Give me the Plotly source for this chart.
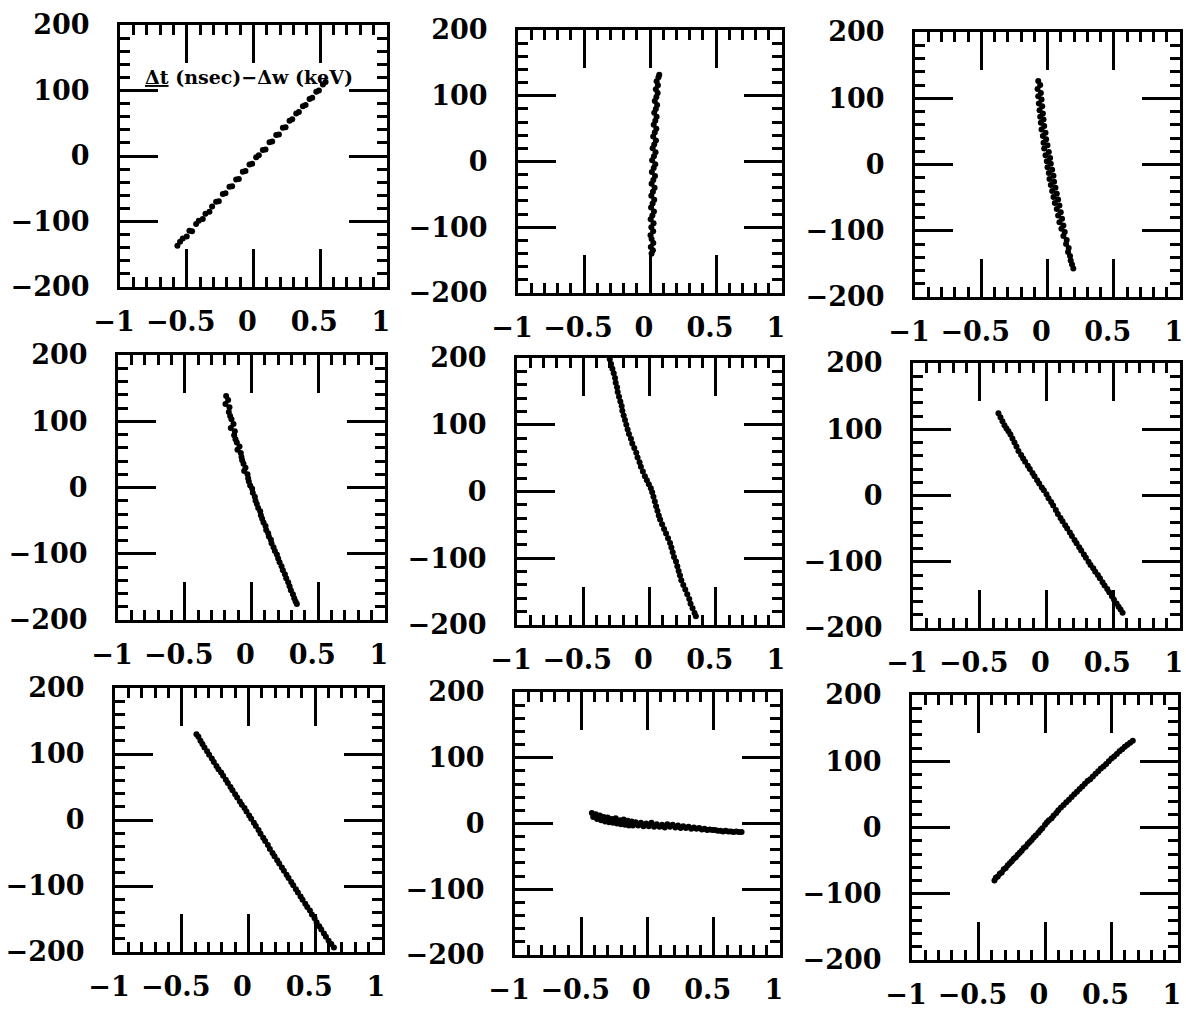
import plotly.graph_objects as go

# ---------------- data ----------------
X_TICKS = [-1, -0.5, 0, 0.5, 1]
Y_TICKS = [-200, -100, 0, 100, 200]
TITLE_TEXT = "<b><u>Δt</u> (nsec)−Δw (keV)</b>"

PANEL1 = [(-0.57,-137),(-0.55,-131),(-0.53,-126),(-0.50,-123),(-0.48,-114),(-0.46,-115),(-0.43,-104),
          (-0.41,-99),(-0.38,-96),(-0.36,-88),(-0.33,-85),(-0.31,-77),(-0.28,-70),(-0.26,-69),(-0.23,-58),
          (-0.21,-57),(-0.18,-47),(-0.16,-46),(-0.13,-36),(-0.11,-35),(-0.08,-24),(-0.06,-23),(-0.03,-13),
          (-0.01,-12),(0.02,-2),(0.04,1),(0.07,9),(0.09,10),(0.12,21),(0.14,22),(0.17,32),(0.19,33),
          (0.22,43),(0.24,44),(0.27,54),(0.29,56),(0.32,65),(0.34,67),(0.37,76),(0.39,78),(0.42,87),
          (0.44,89),(0.47,98),(0.49,100),(0.52,109),(0.54,113)]

PANEL2 = [(0.012,-140),(0.022,-135),(0.006,-130),(0.025,-124),(0.012,-118),(0.004,-112),(0.024,-106),
          (0.010,-100),(0.027,-94),(0.005,-88),(0.018,-82),(0.030,-76),(0.008,-70),(0.020,-64),(0.032,-58),
          (0.010,-52),(0.022,-46),(0.035,-40),(0.012,-34),(0.025,-28),(0.038,-22),(0.014,-16),(0.028,-10),
          (0.040,-4),(0.016,2),(0.030,8),(0.042,14),(0.020,20),(0.032,26),(0.045,32),(0.024,38),(0.036,44),
          (0.048,50),(0.028,56),(0.040,62),(0.050,68),(0.032,74),(0.044,80),(0.054,86),(0.036,92),
          (0.048,98),(0.058,104),(0.044,110),(0.060,116),(0.050,122),(0.064,128),(0.070,132)]

PANEL3 = [(-0.07,126),(-0.055,120),(-0.075,114),(-0.05,108),(-0.07,103),(-0.045,98),(-0.065,92),(-0.04,88),
          (-0.06,82),(-0.035,77),(-0.055,72),(-0.03,68),(-0.05,63),(-0.025,58),(-0.045,53),(-0.015,48),
          (-0.035,43),(-0.01,38),(-0.03,33),(0.0,29),(-0.025,24),(0.01,19),(-0.015,14),(0.02,10),(-0.005,5),
          (0.025,1),(0.0,-4),(0.035,-8),(0.01,-13),(0.045,-17),(0.015,-22),(0.05,-26),(0.025,-31),
          (0.06,-35),(0.035,-40),(0.07,-44),(0.045,-49),(0.08,-53),(0.055,-58),(0.09,-62),(0.07,-67),
          (0.10,-72),(0.08,-77),(0.11,-82),(0.09,-87),(0.12,-92),(0.105,-97),(0.13,-102),(0.12,-108),
          (0.145,-114),(0.14,-120),(0.16,-126),(0.155,-132),(0.17,-138),(0.175,-145),(0.185,-151),(0.195,-157)]

PANEL4 = [(-0.19,138),(-0.175,132),(-0.195,126),(-0.165,121),(-0.17,114),(-0.16,108),(-0.15,103),(-0.135,96),
          (-0.155,90),(-0.125,85),(-0.13,79),(-0.12,73),(-0.11,68),(-0.09,62),(-0.105,57),(-0.08,52),
          (-0.075,46),(-0.07,41),(-0.06,36),(-0.045,30),(-0.055,25),(-0.03,20),(-0.025,14),(-0.02,9),
          (-0.01,3),(0.005,-2),(0.01,-8),(0.025,-14),(0.03,-20),(0.04,-25),(0.05,-31),(0.065,-36),(0.07,-42),
          (0.08,-47),(0.09,-53),(0.105,-58),(0.11,-64),(0.125,-69),(0.13,-74),(0.145,-79),(0.15,-84),
          (0.165,-90),(0.175,-96),(0.19,-101),(0.20,-107),(0.21,-113),(0.225,-119),(0.235,-125),
          (0.25,-131),(0.26,-137),(0.275,-143),(0.285,-149),(0.295,-155),(0.31,-161),(0.32,-167),
          (0.33,-172),(0.34,-176)]

PANEL5 = [(-0.30,198),(-0.29,191),(-0.28,184),(-0.27,177),(-0.26,170),(-0.255,163),(-0.245,156),
          (-0.24,149),(-0.23,142),(-0.22,135),(-0.21,128),(-0.205,121),(-0.195,114),(-0.185,107),
          (-0.175,100),(-0.165,93),(-0.155,86),(-0.14,79),(-0.13,72),(-0.115,65),(-0.10,58),(-0.09,51),
          (-0.075,44),(-0.065,37),(-0.05,30),(-0.035,23),(-0.02,17),(-0.005,11),(0.01,5),(0.02,-1),
          (0.03,-8),(0.04,-15),(0.05,-22),(0.06,-29),(0.07,-36),(0.08,-42),(0.095,-49),(0.11,-56),
          (0.125,-63),(0.14,-70),(0.155,-77),(0.165,-84),(0.175,-91),(0.185,-98),(0.20,-105),(0.21,-112),
          (0.22,-119),(0.23,-126),(0.24,-133),(0.255,-140),(0.27,-147),(0.285,-154),(0.30,-161),
          (0.31,-168),(0.325,-175),(0.34,-182),(0.35,-187)]

PANEL6 = [(-0.36,124),(-0.345,118),(-0.33,112),(-0.315,106),(-0.30,101),(-0.285,97),(-0.27,92),
          (-0.255,86),(-0.24,80),(-0.225,74),(-0.21,67),(-0.19,61),(-0.175,56),(-0.16,51),(-0.14,45),
          (-0.125,40),(-0.105,34),(-0.09,29),(-0.07,23),(-0.055,18),(-0.035,12),(-0.02,8),(0.0,2),
          (0.015,-4),(0.035,-10),(0.05,-15),(0.07,-22),(0.085,-28),(0.105,-34),(0.12,-39),(0.14,-45),
          (0.155,-50),(0.175,-56),(0.19,-61),(0.21,-67),(0.225,-72),(0.245,-78),(0.26,-83),(0.28,-89),
          (0.295,-94),(0.315,-100),(0.33,-105),(0.35,-110),(0.365,-115),(0.385,-120),(0.40,-125),
          (0.42,-131),(0.435,-136),(0.455,-141),(0.47,-146),(0.49,-152),(0.505,-157),(0.525,-163),
          (0.54,-168),(0.555,-172),(0.57,-177)]

PANEL7 = [(-0.39,130),(-0.375,126),(-0.36,120),(-0.345,115),(-0.33,110),(-0.31,104),(-0.295,99),
          (-0.275,93),(-0.26,88),(-0.24,82),(-0.225,77),(-0.205,72),(-0.19,67),(-0.17,61),(-0.155,56),
          (-0.135,50),(-0.12,45),(-0.10,39),(-0.085,34),(-0.065,28),(-0.05,23),(-0.03,18),(-0.015,13),
          (0.005,7),(0.02,2),(0.04,-4),(0.055,-9),(0.075,-15),(0.09,-21),(0.11,-27),(0.125,-32),
          (0.145,-38),(0.16,-44),(0.18,-50),(0.195,-55),(0.215,-61),(0.23,-66),(0.25,-72),(0.265,-77),
          (0.285,-83),(0.30,-88),(0.32,-94),(0.335,-99),(0.355,-105),(0.37,-110),(0.39,-116),
          (0.405,-121),(0.425,-127),(0.44,-132),(0.46,-137),(0.475,-143),(0.495,-149),(0.51,-155),
          (0.53,-161),(0.545,-166),(0.565,-172),(0.58,-177),(0.60,-183),(0.62,-188),(0.64,-193)]

PANEL8 = [(-0.42,16),(-0.41,10),(-0.39,14),(-0.38,7),(-0.36,12),(-0.35,5),(-0.33,10),(-0.32,3),
          (-0.30,9),(-0.29,2),(-0.27,7),(-0.26,1),(-0.24,8),(-0.23,0),(-0.21,5),(-0.20,-1),(-0.18,6),
          (-0.17,-2),(-0.15,4),(-0.14,-3),(-0.12,3),(-0.11,-3),(-0.09,2),(-0.07,-3),(-0.05,1),(-0.03,-4),
          (-0.01,0),(0.01,-4),(0.03,1),(0.05,-5),(0.07,-1),(0.09,-5),(0.11,-2),(0.13,-6),(0.15,-1),
          (0.17,-5),(0.19,-2),(0.21,-6),(0.23,-3),(0.25,-7),(0.27,-4),(0.29,-7),(0.31,-5),(0.33,-8),
          (0.35,-6),(0.37,-8),(0.39,-7),(0.41,-9),(0.43,-8),(0.45,-10),(0.47,-9),(0.49,-10),(0.51,-10),
          (0.53,-11),(0.55,-11),(0.57,-12),(0.59,-11),(0.61,-12),(0.63,-12),(0.65,-13),(0.67,-12),
          (0.69,-13),(0.71,-13)]

PANEL9 = [(-0.38,-80),(-0.37,-76),(-0.355,-74),(-0.34,-70),(-0.325,-68),(-0.31,-63),(-0.295,-61),
          (-0.28,-57),(-0.265,-54),(-0.25,-51),(-0.235,-47),(-0.22,-45),(-0.205,-41),(-0.19,-38),
          (-0.175,-35),(-0.16,-31),(-0.145,-29),(-0.13,-25),(-0.115,-22),(-0.10,-19),(-0.085,-15),
          (-0.07,-12),(-0.05,-8),(-0.035,-4),(-0.02,-1),(0.0,4),(0.015,8),(0.03,11),(0.05,14),(0.065,18),
          (0.085,22),(0.10,26),(0.12,30),(0.14,34),(0.16,38),(0.18,42),(0.20,46),(0.22,50),(0.24,54),
          (0.26,58),(0.28,62),(0.30,66),(0.32,70),(0.34,73),(0.36,77),(0.38,81),(0.40,85),(0.42,89),
          (0.44,92),(0.46,96),(0.48,100),(0.50,104),(0.52,107),(0.54,111),(0.56,115),(0.58,118),
          (0.60,122),(0.62,125),(0.64,128),(0.66,131)]

PANELS = [PANEL1, PANEL2, PANEL3, PANEL4, PANEL5, PANEL6, PANEL7, PANEL8, PANEL9]

# ---------------- layout (pixel boxes of each frame: left, right, top, bottom) ----------------
W, H = 1186, 1009
BOXES = [(120, 387, 25, 287), (518, 782, 30, 293), (915, 1180, 32, 297),
         (118, 385, 355, 620), (517, 782, 358, 625), (913, 1180, 363, 628),
         (115, 382, 688, 952), (515, 780, 692, 955), (912, 1178, 695, 960)]

FONT = dict(family="DejaVu Serif", size=27, color="black", weight="bold")

fig = go.Figure()
layout = dict(width=W, height=H, margin=dict(l=0, r=0, t=0, b=0, pad=0, autoexpand=False),
              paper_bgcolor="white", plot_bgcolor="white", showlegend=False)

for i, (pts, box) in enumerate(zip(PANELS, BOXES)):
    n = "" if i == 0 else str(i + 1)
    xs = [p[0] for p in pts]
    ys = [p[1] for p in pts]
    fig.add_trace(go.Scatter(x=xs, y=ys, mode="markers", xaxis="x" + n, yaxis="y" + n,
                             marker=dict(size=6, color="black", line=dict(width=0)),
                             hoverinfo="skip"))
    l, r, t, b = box
    common = dict(showgrid=False, zeroline=False, showline=True, linecolor="black", linewidth=3,
                  mirror="allticks", ticks="inside", tickcolor="black", tickwidth=2.5, ticklen=38,
                  tickfont=FONT, tickangle=0, tickmode="linear", fixedrange=True, automargin=False,
                  ticklabeloverflow="allow")
    layout["xaxis" + n] = dict(common, domain=[l / W, r / W], range=[-1, 1], anchor="y" + n,
                               tick0=X_TICKS[0], dtick=X_TICKS[1] - X_TICKS[0],
                               ticklabelstandoff=9, ticklabelshift=-6,
                               minor=dict(dtick=0.1, tick0=0, ticks="inside", ticklen=10,
                                          tickwidth=2.5, tickcolor="black"))
    layout["yaxis" + n] = dict(common, domain=[1 - b / H, 1 - t / H], range=[-200, 200], anchor="x" + n,
                               tick0=Y_TICKS[0], dtick=Y_TICKS[1] - Y_TICKS[0],
                               ticklabelstandoff=22,
                               minor=dict(dtick=20, tick0=0, ticks="inside", ticklen=10,
                                          tickwidth=2.5, tickcolor="black"))

layout["annotations"] = [dict(text=TITLE_TEXT, x=-0.83, y=121, xref="x", yref="y",
                              xanchor="left", yanchor="middle", showarrow=False,
                              font=dict(family="DejaVu Serif", size=19, color="black"))]

fig.update_layout(**layout)
fig.write_html("out.html")
